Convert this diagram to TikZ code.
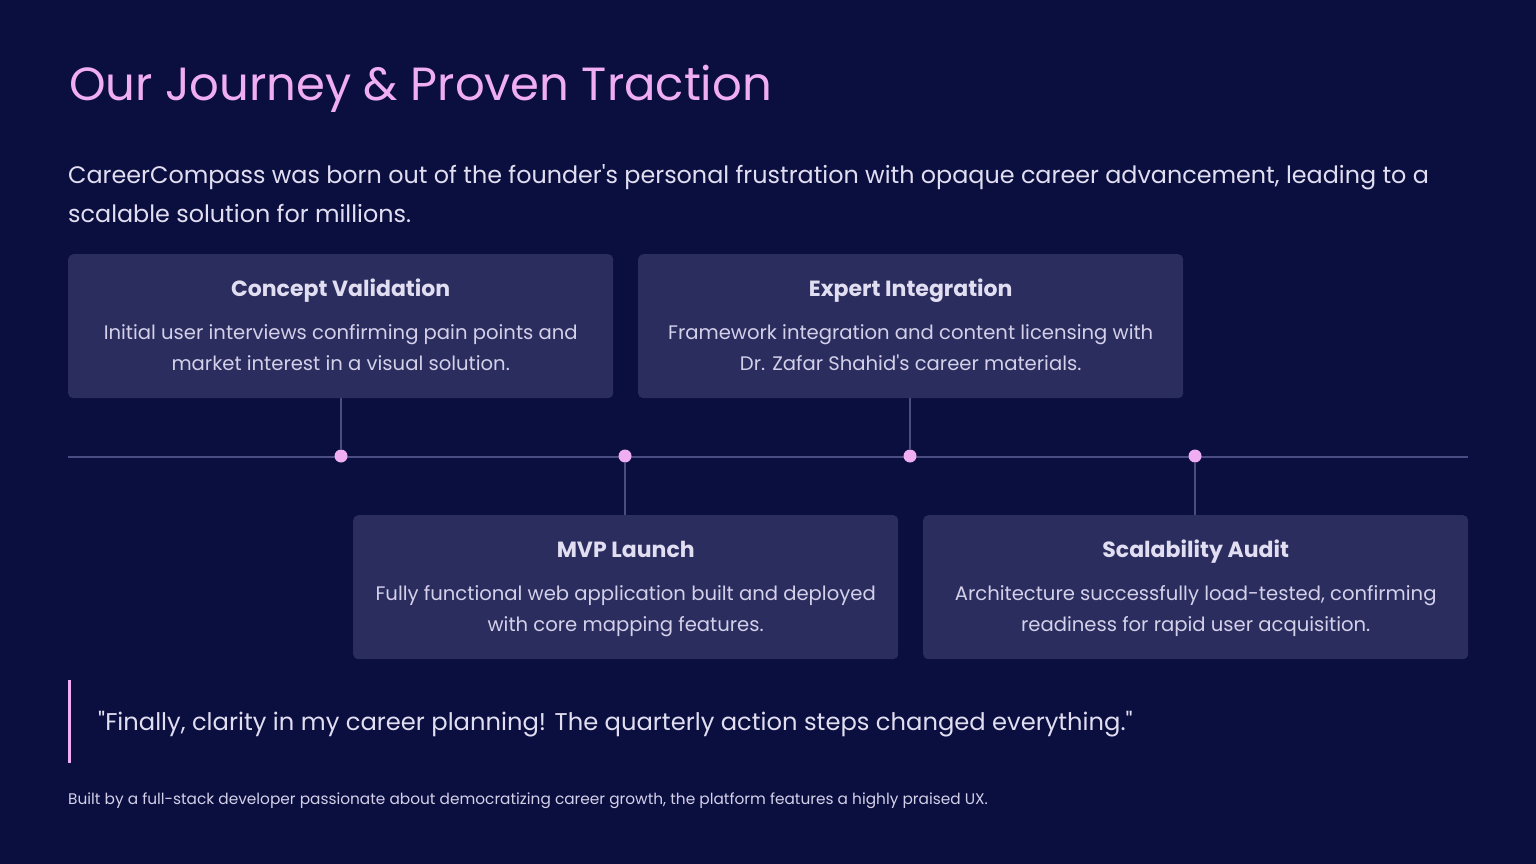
\documentclass[tikz,border=0pt]{standalone}
\usepackage{fontspec}
\setmainfont{Poppins}[Ligatures=TeXOff]
\definecolor{bg}{HTML}{0B0F3F}
\definecolor{card}{HTML}{2A2D5E}
\definecolor{pinkc}{HTML}{F0AEF2}
\definecolor{linec}{HTML}{4A4C82}
\definecolor{txt}{HTML}{E2DEF2}
\definecolor{bodytxt}{HTML}{D4D0EA}
\begin{document}
\begin{tikzpicture}[x=1pt,y=-1pt,
  cardbox/.style={fill=card, rounded corners=5pt, minimum width=545pt, minimum height=144pt, anchor=north west, inner sep=0pt},
  cardtitle/.style={text=txt, font=\fontsize{22}{26}\selectfont\bfseries, anchor=base, inner sep=0pt},
  cardbody/.style={text=bodytxt, font=\fontsize{19.6}{31}\selectfont, align=center, anchor=base, inner sep=0pt},
  dotc/.style={circle, fill=pinkc, minimum size=13pt, inner sep=0pt},
  tline/.style={draw=linec, line width=2.4pt},
  stem/.style={draw=linec, line width=1.8pt}]
\fill[bg] (0,0) rectangle (1536,864);
\useasboundingbox (0,0) rectangle (1536,864);
\node[anchor=base west, inner sep=0pt, text=pinkc, font=\fontsize{46.5}{52}\selectfont] (title) at (69,101) {Our Journey \& Proven Traction};
\node[anchor=base west, text=txt, align=left, inner sep=0pt, font=\fontsize{23.85}{39}\selectfont] (intro) at (68,222) {CareerCompass was born out of the founder's personal frustration with opaque career advancement, leading to a\\ scalable solution for millions.};

% timeline
\coordinate (tl) at (68,457);
\coordinate (tr) at (1468,457);
\draw[tline] (tl) -- (tr);

% cards
\node[cardbox] (c1) at (68,254) {};
\node[cardbox] (c2) at (638,254) {};
\node[cardbox] (c3) at (353,515) {};
\node[cardbox] (c4) at (923,515) {};

\node[dotc] (d1) at (341,456) {};
\node[dotc] (d2) at (625,456) {};
\node[dotc] (d3) at (910,456) {};
\node[dotc] (d4) at (1195,456) {};

\draw[stem] (c1.south -| d1) -- (d1.north);
\draw[stem] (c2.south -| d3) -- (d3.north);
\draw[stem] (d2.south) -- (c3.north -| d2);
\draw[stem] (d4.south) -- (c4.north -| d4);

\node[cardtitle] (t1) at ([yshift=-42pt]c1.north) {Concept Validation};
\node[cardbody] (b1) at ([yshift=-116pt]c1.north) {Initial user interviews confirming pain points and\\ market interest in a visual solution.};
\node[cardtitle] (t2) at ([yshift=-42pt]c2.north) {Expert Integration};
\node[cardbody] (b2) at ([yshift=-116pt]c2.north) {Framework integration and content licensing with\\ Dr. Zafar Shahid's career materials.};
\node[cardtitle] (t3) at ([yshift=-42pt]c3.north) {MVP Launch};
\node[cardbody] (b3) at ([yshift=-116pt]c3.north) {Fully functional web application built and deployed\\ with core mapping features.};
\node[cardtitle] (t4) at ([yshift=-42pt]c4.north) {Scalability Audit};
\node[cardbody] (b4) at ([yshift=-116pt]c4.north) {Architecture successfully load-tested, confirming\\ readiness for rapid user acquisition.};

% quote
\fill[pinkc] (68,680) rectangle (71,763);
\node[anchor=base west, inner sep=0pt, text=txt, font=\fontsize{24.2}{28}\selectfont] (quote) at (98,730) {"Finally, clarity in my career planning! The quarterly action steps changed everything."};
\node[anchor=base west, inner sep=0pt, text=bodytxt, font=\fontsize{15.35}{18}\selectfont] (foot) at (68,804) {Built by a full-stack developer passionate about democratizing career growth, the platform features a highly praised UX.};
\end{tikzpicture}
\end{document}
